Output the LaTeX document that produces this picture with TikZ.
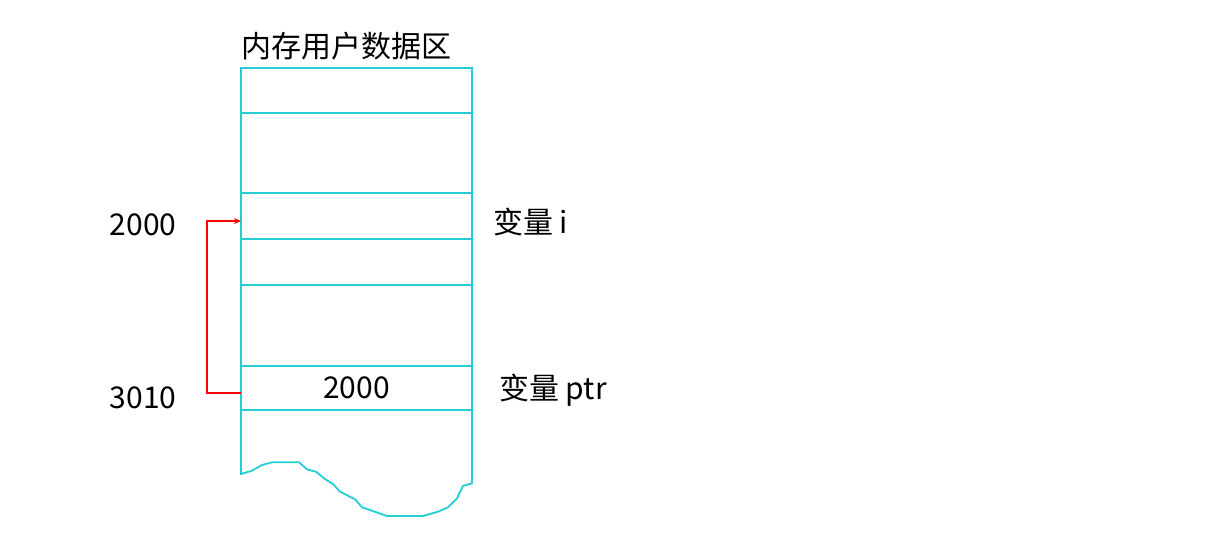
\documentclass[tikz,border=0pt]{standalone}
\usepackage{fontspec}
\newfontfamily\cjk{Noto Sans CJK SC}
\usetikzlibrary{arrows.meta}
\definecolor{memline}{RGB}{34,206,212}
\tikzset{
  cell/.style={draw=memline,line width=1.8pt,minimum width=231pt,inner sep=0pt,outer sep=0pt,font=\cjk\fontsize{30}{36}\selectfont},
  lbl/.style={inner sep=0pt,font=\cjk\fontsize{30}{36}\selectfont}
}
\begin{document}
\begin{tikzpicture}[x=1pt,y=-1pt]
            \useasboundingbox (0,0) rectangle (1229,549);
            \node[lbl] (title) at (346,46) {内存用户数据区};
            \node[cell,minimum height=45pt] (c1) at (356.5,90.5) {};
            \node[cell,minimum height=80pt] (c2) at (356.5,153) {};
            \node[cell,minimum height=46pt] (c3) at (356.5,216) {};
            \node[cell,minimum height=46pt] (c4) at (356.5,262) {};
            \node[cell,minimum height=81pt] (c5) at (356.5,325.5) {};
            \node[cell,minimum height=44pt] (c6) at (356.5,388) {\raisebox{-2pt}{2000}};
            % torn-off rest of the memory
            \draw[memline,line width=1.8pt] (c6.south west) -- (241,474) -- (252,470.7) -- (262,465)
                -- (272,462.3) -- (299,462.3) -- (307,469.3) -- (316,471.7) -- (325,479)
                -- (333,484) -- (340,491.7) -- (355,499.3) -- (362,507.3) -- (370,510)
                -- (387,516) -- (423,516) -- (438,511.7) -- (448,507.3) -- (457,498.3)
                -- (463,486) -- (472,483.3) -- (c6.south east);
            \node[lbl] (a2000) at (143,225) {2000};
            \node[lbl] (a3010) at (143,398) {3010};
            \node[lbl,anchor=west] (vari) at (493,222) {变量 i};
            \node[lbl,anchor=west] (varptr) at (499,390) {变量 ptr};
            \draw[red,line width=1.2pt,-{Stealth[length=7pt,width=6pt]}]
                ([yshift=-5pt]c6.west) -- ++(-34,0) |- ([yshift=-5pt]c3.west);
\end{tikzpicture}
\end{document}
